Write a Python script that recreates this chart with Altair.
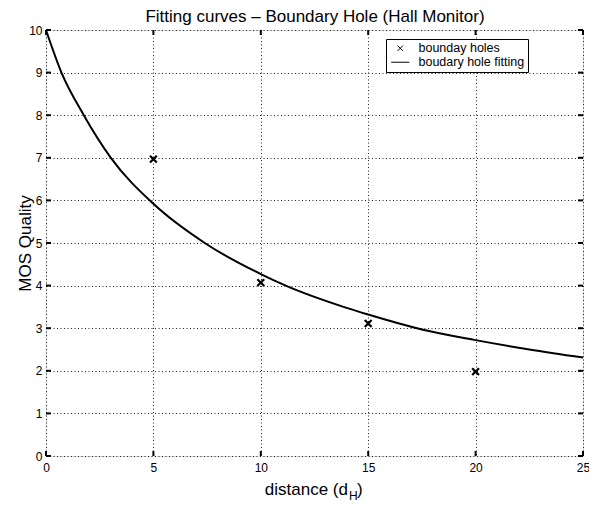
import altair as alt
import pandas as pd

# ---- data ----
hole_distance = [5, 10, 15, 20]
hole_mos = [6.97, 4.07, 3.11, 1.98]

fit_distance = [0, 0.72, 1.76, 3.02, 5, 7.39, 10, 11.16, 13.92, 15, 17.5, 20, 22.5, 25]
fit_mos = [10, 9, 8, 7, 5.92, 5, 4.27, 4, 3.49, 3.32, 2.97, 2.72, 2.50, 2.31]

x_ticks = [0, 5, 10, 15, 20, 25]
y_ticks = [0, 1, 2, 3, 4, 5, 6, 7, 8, 9, 10]

series_names = ["bounday holes", "boudary hole fitting"]
title_text = "Fitting curves – Boundary Hole (Hall Monitor)"
y_title = "MOS Quality"
x_title_main = "distance (d"
x_title_sub = "H"
x_title_end = ")"

# ---- layout ----
W, H = 537, 426
PAD_L, PAD_T = 38, 22
FONT = "Liberation Sans"
CROSS = "M-0.6,-0.6L0.6,0.6M-0.6,0.6L0.6,-0.6"
LINE = "M-2,0L2,0"

holes = pd.DataFrame({"d": hole_distance, "mos": hole_mos, "series": series_names[0]})
fit = pd.DataFrame({"d": fit_distance, "mos": fit_mos})
xt = pd.DataFrame({"d": x_ticks})
yt = pd.DataFrame({"mos": y_ticks})

xscale = alt.Scale(domain=[0, 25], nice=False, zero=False)
yscale = alt.Scale(domain=[0, 10], nice=False, zero=False)

xaxis = alt.Axis(values=x_ticks, title=None, grid=True, domain=False, ticks=False,
                 labelPadding=6, labelFontSize=12, labelFont=FONT, labelColor="black",
                 labelFlush=False, gridDash=[1, 2.5], gridColor="#222", gridWidth=1,
                 labelOverlap=False)
yaxis = alt.Axis(values=y_ticks, title=y_title, grid=True, domain=False, ticks=False,
                 labelPadding=4, labelFontSize=12, labelFont=FONT, labelColor="black",
                 labelFlush=False, gridDash=[1, 2.5], gridColor="#222", gridWidth=1,
                 labelOverlap=False, titleFont=FONT, titleFontSize=17,
                 titleFontWeight="normal", titleColor="black", titleX=-16,
                 titleY=H / 2, titleAngle=270, titleBaseline="alphabetic",
                 titleAlign="center")

X = alt.X("d:Q", scale=xscale, axis=xaxis)
Y = alt.Y("mos:Q", scale=yscale, axis=yaxis)

fit_line = alt.Chart(fit).mark_line(color="black", strokeWidth=2, interpolate="monotone").encode(x=X, y=Y)

points = alt.Chart(holes).mark_point(filled=False, color="black", strokeWidth=2.2, size=130, opacity=1).encode(
    x=X, y=Y,
    shape=alt.Shape("series:N",
                    scale=alt.Scale(domain=series_names, range=[CROSS, LINE]),
                    legend=alt.Legend(title=None, orient="none", legendX=340, legendY=9,
                                      fillColor="white", strokeColor="black", padding=3,
                                      symbolSize=81, symbolStrokeWidth=1,
                                      symbolStrokeColor="black", symbolFillColor="transparent",
                                      symbolOffset=5, labelOffset=12, rowPadding=1,
                                      labelFont=FONT, labelFontSize=12.5, labelColor="black")),
)

tick_w = 2
tick_len = 5
xt_bottom = alt.Chart(xt).mark_rule(color="black", strokeWidth=tick_w).encode(
    x=X, y=alt.value(H - tick_len), y2=alt.value(H))
xt_top = alt.Chart(xt).mark_rule(color="black", strokeWidth=tick_w).encode(
    x=X, y=alt.value(0), y2=alt.value(tick_len))
yt_left = alt.Chart(yt).mark_rule(color="black", strokeWidth=tick_w).encode(
    y=Y, x=alt.value(0), x2=alt.value(tick_len))
yt_right = alt.Chart(yt).mark_rule(color="black", strokeWidth=tick_w).encode(
    y=Y, x=alt.value(W - tick_len), x2=alt.value(W))

one = alt.Data(values=[{}])
title_mark = alt.Chart(one).mark_text(align="center", baseline="alphabetic", font=FONT, fontSize=17, color="black").encode(
    x=alt.value(269), y=alt.value(-8), text=alt.value(title_text))
xt_main = alt.Chart(one).mark_text(align="right", baseline="alphabetic", font=FONT, fontSize=17, color="black").encode(
    x=alt.value(302), y=alt.value(H + 39), text=alt.value(x_title_main))
xt_sub = alt.Chart(one).mark_text(align="left", baseline="alphabetic", font=FONT, fontSize=12, color="black").encode(
    x=alt.value(303), y=alt.value(H + 44), text=alt.value(x_title_sub))
xt_end = alt.Chart(one).mark_text(align="left", baseline="alphabetic", font=FONT, fontSize=17, color="black").encode(
    x=alt.value(311), y=alt.value(H + 39), text=alt.value(x_title_end))

chart = alt.layer(fit_line, points, xt_bottom, xt_top, yt_left, yt_right,
                  title_mark, xt_main, xt_sub, xt_end).properties(
    width=W, height=H,
    padding={"left": PAD_L, "top": PAD_T, "right": 581 - PAD_L - W, "bottom": 494 - PAD_T - H},
    autosize=alt.AutoSizeParams(type="none"),
).configure_view(stroke="black", strokeWidth=2.5).configure(background="white")

chart.save("out.html", embed_options={"renderer": "svg", "actions": False})
